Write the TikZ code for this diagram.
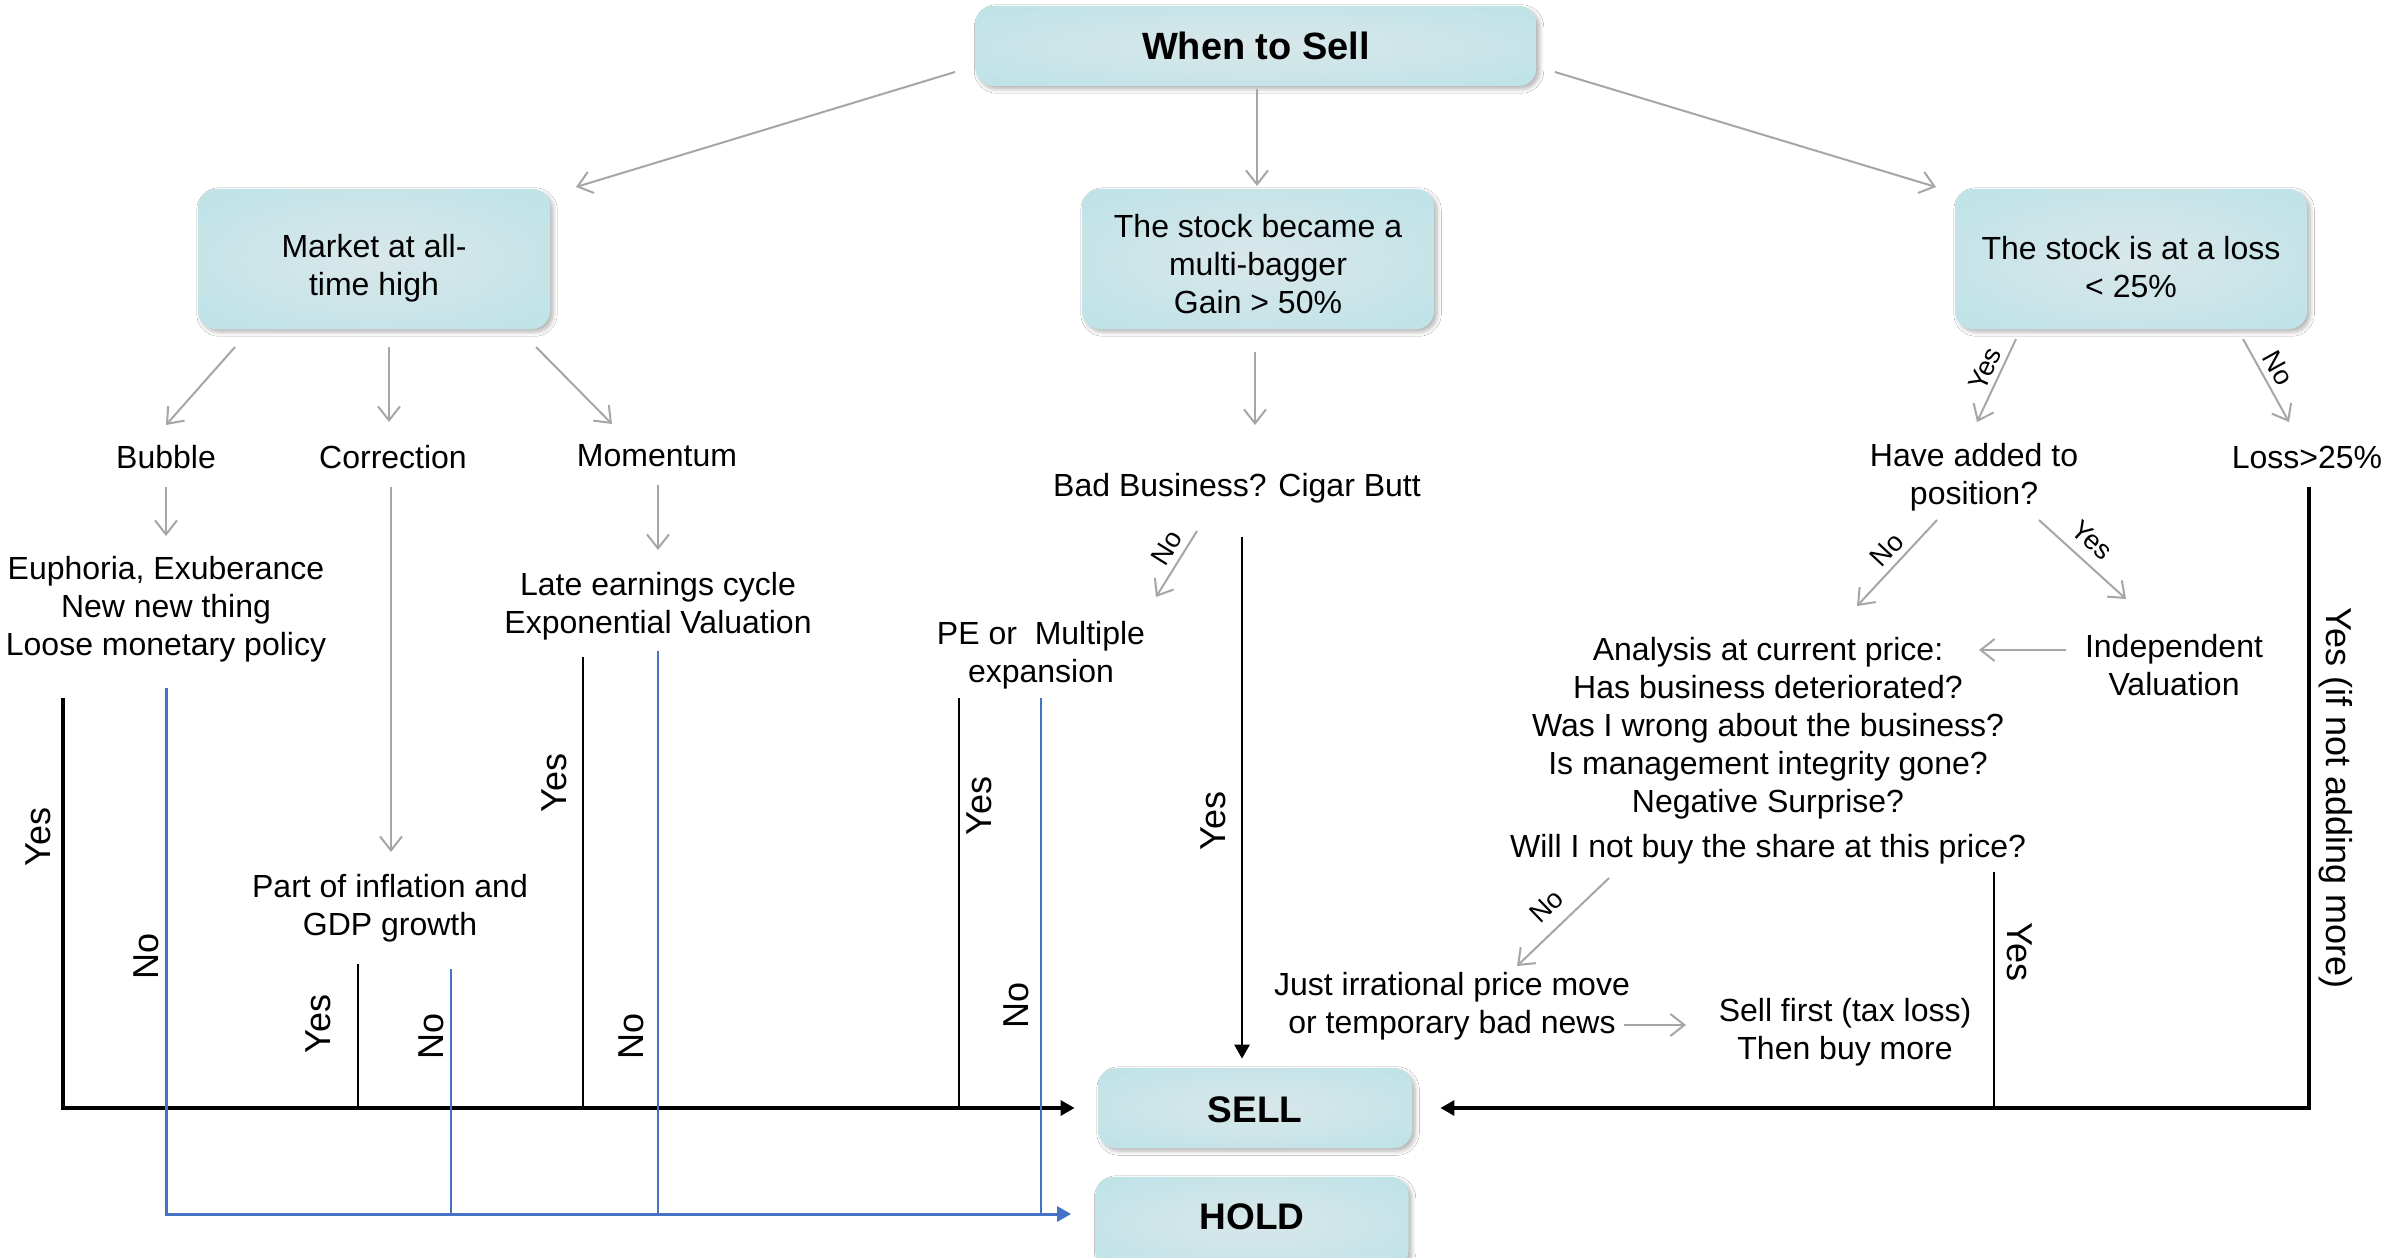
\documentclass[tikz,border=0pt]{standalone}
\usepackage{fontspec}
\setmainfont{Liberation Sans}
\usetikzlibrary{arrows.meta,calc,shadows.blur}

\definecolor{tealin}{HTML}{D9E7EA}
\definecolor{tealout}{HTML}{B2E1E6}
\definecolor{linkgray}{HTML}{A6A6A6}
\definecolor{holdblue}{HTML}{4472C4}

% soft cyan fill of the rounded boxes
\pgfdeclareradialshading{tealglow}{\pgfpoint{0bp}{0bp}}{color(0bp)=(tealin); color(50bp)=(tealout); color(72bp)=(tealout)}

\tikzset{
  box/.style={draw=none, rounded corners=9pt, shading=tealglow, align=center,
    minimum width=176pt, minimum height=70pt, inner sep=2pt,
    font=\fontsize{16}{19}\selectfont,
    blur shadow={shadow xshift=1.5pt, shadow yshift=-1.5pt, shadow blur steps=6, shadow opacity=30}},
  bigbox/.style={box, font=\bfseries\fontsize{18.5}{22}\selectfont},
  txt/.style={align=center, inner sep=0pt, font=\fontsize{16}{19}\selectfont},
  dlab/.style={inner sep=0pt, font=\fontsize{13.5}{16}\selectfont},
  vlab/.style={inner sep=0pt, font=\fontsize{18}{21}\selectfont},
  garrow/.style={draw=linkgray, line width=1pt, -{Straight Barb[length=7pt,width=11pt]}},
  blkline/.style={draw=black, line width=1.1pt},
  busline/.style={draw=black, line width=1.6pt, -{Triangle[length=7pt,width=7.5pt]}},
  blueline/.style={draw=holdblue, line width=1.1pt},
  bluebus/.style={draw=holdblue, line width=1.5pt, -{Triangle[length=7pt,width=7.5pt]}},
}

\begin{document}
\begin{tikzpicture}[x=0.5pt, y=-0.5pt]
\path[use as bounding box, fill=white] (0,0) rectangle (2407,1257);

% ---- boxes ----
\node[bigbox, minimum width=280.5pt, minimum height=40pt, font=\bfseries\fontsize{19}{22}\selectfont] (top) at (1256,46) {When to Sell};
\node[box] (mkt) at (374,259) {};
\node[box] (multi) at (1258,259) {};
\node[box] (loss) at (2131,259) {};
\node[txt] (mktT) at (374,268) {Market at all-\\time high};
\node[txt] (multiT) at (1258,264) {The stock became a\\multi-bagger\\Gain > 50\%};
\node[txt] (lossT) at (2131,267) {The stock is at a loss\\< 25\%};
\node[bigbox, minimum width=157pt, minimum height=40pt, text height=14.7pt, text depth=0pt] (sell) at (1255,1108) {SELL};
\node[bigbox, minimum width=156.5pt, minimum height=46pt, text height=13.2pt, text depth=7pt] (hold) at (1252,1223) {HOLD};

% ---- plain text steps ----
\node[txt] (bubble) at (166,457) {Bubble};
\node[txt] (corr) at (393,457) {Correction};
\node[txt] (mom) at (657,456) {Momentum};
\node[txt] (euph) at (166,609) {Euphoria, Exuberance\\New new thing\\Loose monetary policy};
\node[txt] (part) at (390,908) {Part of inflation and\\GDP growth};
\node[txt] (late) at (658,606) {Late earnings cycle\\Exponential Valuation};
\node[txt] (bb) at (1237,488) {Bad Business? Cigar Butt};
\node[txt] (pe) at (1041,655) {PE or\ \ Multiple\\expansion};
\node[txt] (ha) at (1974,477) {Have added to\\position?};
\node[txt] (l25) at (2307,457) {Loss>25\%};
\node[txt] (ind) at (2174,665) {Independent\\Valuation};
\node[txt] (anal) at (1768,751) {Analysis at current price:\\Has business deteriorated?\\Was I wrong about the business?\\Is management integrity gone?\\Negative Surprise?\\[3.5pt]Will I not buy the share at this price?};
\node[txt] (just) at (1452,1006) {Just irrational price move\\or temporary bad news};
\node[txt] (sf) at (1845,1032) {Sell first (tax loss)\\Then buy more};

% ---- grey decision arrows ----
\draw[garrow] ([shift={(-301,26)}]top.center) -- ([shift={(202,-72)}]mkt.center);
\draw[garrow] ([shift={(1,43)}]top.center) -- ([shift={(-1,-73)}]multi.center);
\draw[garrow] ([shift={(299,26)}]top.center) -- ([shift={(-195,-72)}]loss.center);

\draw[garrow] ([shift={(-139,88)}]mkt.center) -- ([shift={(0,-32)}]bubble.center);
\draw[garrow] ([shift={(15,88)}]mkt.center) -- ([shift={(-4,-35)}]corr.center);
\draw[garrow] ([shift={(162,88)}]mkt.center) -- ([shift={(-45,-32)}]mom.center);

\draw[garrow] ([shift={(0,30)}]bubble.center) -- ([shift={(0,-73)}]euph.center);
\draw[garrow] ([shift={(-2,30)}]corr.center) -- ([shift={(1,-56)}]part.center);
\draw[garrow] ([shift={(1,29)}]mom.center) -- ([shift={(0,-56)}]late.center);

\draw[garrow] ([shift={(-3,93)}]multi.center) -- ([shift={(18,-63)}]bb.center);
\draw[garrow] ([shift={(-40,43)}]bb.center) -- ([shift={(115,-58)}]pe.center);

\draw[garrow] ([shift={(-115,80)}]loss.center) -- ([shift={(3,-55)}]ha.center);
\draw[garrow] ([shift={(112,80)}]loss.center) -- ([shift={(-18,-35)}]l25.center);
\draw[garrow] ([shift={(-37,43)}]ha.center) -- ([shift={(89,-145)}]anal.center);
\draw[garrow] ([shift={(65,43)}]ha.center) -- ([shift={(-48,-66)}]ind.center);
\draw[garrow] ([shift={(-108,-15)}]ind.center) -- ([shift={(211,-101)}]anal.center);
\draw[garrow] ([shift={(-159,127)}]anal.center) -- ([shift={(65,-40)}]just.center);
\draw[garrow] ([shift={(172,19)}]just.center) -- ([shift={(-159,-7)}]sf.center);

% ---- labels on the grey arrows ----
\node[dlab, rotate=58] (lbNo) at (1167,548) {No};
\node[dlab, rotate=65] (lossYes) at (1985,369) {Yes};
\node[dlab, rotate=-61] (lossNo) at (2278,368) {No};
\node[dlab, rotate=47] (haNo) at (1887,550) {No};
\node[dlab, rotate=-42] (haYes) at (2092,540) {Yes};
\node[dlab, rotate=44] (analNo) at (1547,906) {No};

% ---- starting points of the SELL / HOLD lines ----
\coordinate (euphY) at ([shift={(-103,89)}]euph.center);
\coordinate (partY) at ([shift={(-32,56)}]part.center);
\coordinate (lateY) at ([shift={(-75,51)}]late.center);
\coordinate (peY) at ([shift={(-82,43)}]pe.center);
\coordinate (bbY) at ([shift={(5,49)}]bb.center);
\coordinate (l25Y) at ([shift={(2,30)}]l25.center);
\coordinate (analY) at ([shift={(226,121)}]anal.center);

\coordinate (euphN) at ([shift={(0,79)}]euph.center);
\coordinate (partN) at ([shift={(61,61)}]part.center);
\coordinate (lateN) at ([shift={(0,45)}]late.center);
\coordinate (peN) at ([shift={(0,43)}]pe.center);
\coordinate (holdin) at ([yshift=4.5pt]hold.west);

% ---- SELL lines ----
\draw[busline, shorten >=11.5pt] (euphY) |- (sell.west);
\draw[blkline] (partY) -- (partY |- sell.west);
\draw[blkline] (lateY) -- (lateY |- sell.west);
\draw[blkline] (peY) -- (peY |- sell.west);
\draw[busline, line width=1.4pt, shorten >=4.5pt] (bbY) -- (bbY |- sell.north);
\draw[busline, shorten >=14pt] (l25Y) |- (sell.east);
\draw[blkline] (analY) -- (analY |- sell.east);

% ---- HOLD lines ----
\draw[bluebus, shorten >=12pt] (euphN) |- (holdin);
\draw[blueline] (partN) -- (partN |- holdin);
\draw[blueline] (lateN) -- (lateN |- holdin);
\draw[blueline] (peN) -- (peN |- holdin);

% ---- labels on the SELL / HOLD lines ----
\node[vlab, rotate=90] (y1) at (38,837) {Yes};
\node[vlab, rotate=90] (n1) at (146,956) {No};
\node[vlab, rotate=90] (y2) at (318,1024) {Yes};
\node[vlab, rotate=90] (n2) at (431,1036) {No};
\node[vlab, rotate=90] (y3) at (554,783) {Yes};
\node[vlab, rotate=90] (n3) at (631,1036) {No};
\node[vlab, rotate=90] (y4) at (979,806) {Yes};
\node[vlab, rotate=90] (n4) at (1016,1005) {No};
\node[vlab, rotate=90] (y5) at (1213,821) {Yes};
\node[vlab, rotate=-90] (y6) at (2020,952) {Yes};
\node[vlab, rotate=-90] (y7) at (2336,798) {Yes (if not adding more)};
\end{tikzpicture}
\end{document}
